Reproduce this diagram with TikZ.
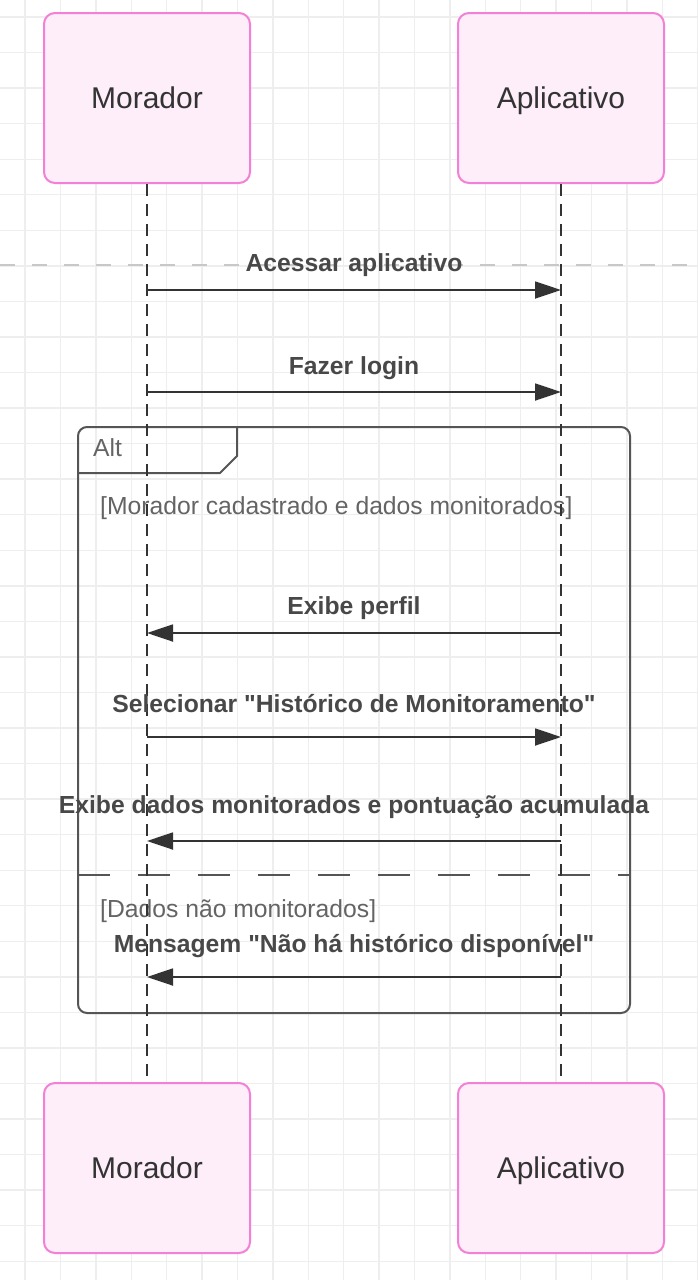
\documentclass[tikz,border=0pt]{standalone}
\usepackage{fontspec}
\setmainfont{Liberation Sans}[Ligatures=TeXOff]
\usetikzlibrary{arrows.meta}
\definecolor{pinkborder}{RGB}{243,128,214}
\definecolor{pinkfill}{RGB}{253,238,249}
\definecolor{gridc}{RGB}{238,238,238}
\definecolor{inkc}{RGB}{51,51,51}
\definecolor{msgc}{RGB}{72,72,72}
\definecolor{guardc}{RGB}{100,100,100}
\definecolor{framec}{RGB}{85,85,85}
\definecolor{seplc}{RGB}{200,200,200}
\tikzset{
  gridline/.style={draw=gridc, line width=1.4pt},
  toplinec/.style={draw=seplc, line width=2.5pt, dash pattern=on 15pt off 17pt},
  actorbox/.style={draw=pinkborder, fill=pinkfill, line width=2pt, rounded corners=11pt,
    minimum width=206pt, minimum height=170pt, inner sep=0pt, text=inkc,
    text height=21.5pt, text depth=0pt,
    font=\fontsize{30}{36}\selectfont},
  lifeline/.style={draw=inkc, line width=1.8pt, dash pattern=on 12pt off 8pt},
  framebox/.style={draw=framec, line width=2pt, rounded corners=9pt, inner sep=0pt,
    minimum width=552pt, minimum height=586pt},
  framepath/.style={draw=framec, line width=2pt},
  altsep/.style={draw=framec, line width=2pt, dash pattern=on 32pt off 28pt},
  msg/.style={draw=inkc, line width=1.8pt, -{Triangle[length=26pt, width=17pt]}},
  msglabel/.style={text=msgc, inner sep=0pt, font=\fontsize{24.7}{29}\selectfont\bfseries},
  guardlabel/.style={text=guardc, inner sep=0pt, anchor=west, font=\fontsize{24.7}{29}\selectfont},
}
\begin{document}
\begin{tikzpicture}[x=1pt, y=-1pt]
\fill[white] (0,0) rectangle (697,1280);
\useasboundingbox (0,0) rectangle (697,1280);
% background grid
\foreach \i in {0,...,19} \draw[gridline] ({25+\i*35.4},0) -- ({25+\i*35.4},1280);
\foreach \j in {0,...,35} \draw[gridline] (0,{17+\j*35.55}) -- (697,{17+\j*35.55});
\draw[toplinec] (0,265) -- (697,265);

% actors
\node[actorbox] (mTop) at (147,98) {Morador};
\node[actorbox] (aTop) at (561,98) {Aplicativo};
\node[actorbox] (mBot) at (147,1168) {Morador};
\node[actorbox] (aBot) at (561,1168) {Aplicativo};

% alt frame
\node[framebox] (alt) at (354,720) {};
\draw[framepath] (78,473) -- (220,473) -- (237,456) -- (237,427);
\node[text=guardc, inner sep=0pt, anchor=west, font=\fontsize{24.7}{29}\selectfont] (altlbl) at (93,448) {Alt};
\node[guardlabel] (g1) at (100,508) {[Morador cadastrado e dados monitorados]};
\draw[altsep] (78,875) -- (630,875);
\node[guardlabel] (g2) at (100,911) {[Dados não monitorados]};

% lifelines
\draw[lifeline] (mTop.south) -- (mBot.north);
\draw[lifeline] (aTop.south) -- (aBot.north);

% message anchor points
\coordinate (m1) at (147,290); \coordinate (a1) at (561,290);
\coordinate (m2) at (147,392); \coordinate (a2) at (561,392);
\coordinate (m3) at (147,633); \coordinate (a3) at (561,633);
\coordinate (m4) at (147,737); \coordinate (a4) at (561,737);
\coordinate (m5) at (147,841); \coordinate (a5) at (561,841);
\coordinate (m6) at (147,977); \coordinate (a6) at (561,977);

\draw[msg] (m1) -- (a1);
\draw[msg] (m2) -- (a2);
\draw[msg] (a3) -- (m3);
\draw[msg] (m4) -- (a4);
\draw[msg] (a5) -- (m5);
\draw[msg] (a6) -- (m6);

\node[msglabel] (l1) at (354,265) {Acessar aplicativo};
\node[msglabel] (l2) at (354,368) {Fazer login};
\node[msglabel] (l3) at (354,608) {Exibe perfil};
\node[msglabel] (l4) at (354,704) {Selecionar "Histórico de Monitoramento"};
\node[msglabel] (l5) at (354,807) {Exibe dados monitorados e pontuação acumulada};
\node[msglabel] (l6) at (354,946) {Mensagem "Não há histórico disponível"};
\end{tikzpicture}
\end{document}
